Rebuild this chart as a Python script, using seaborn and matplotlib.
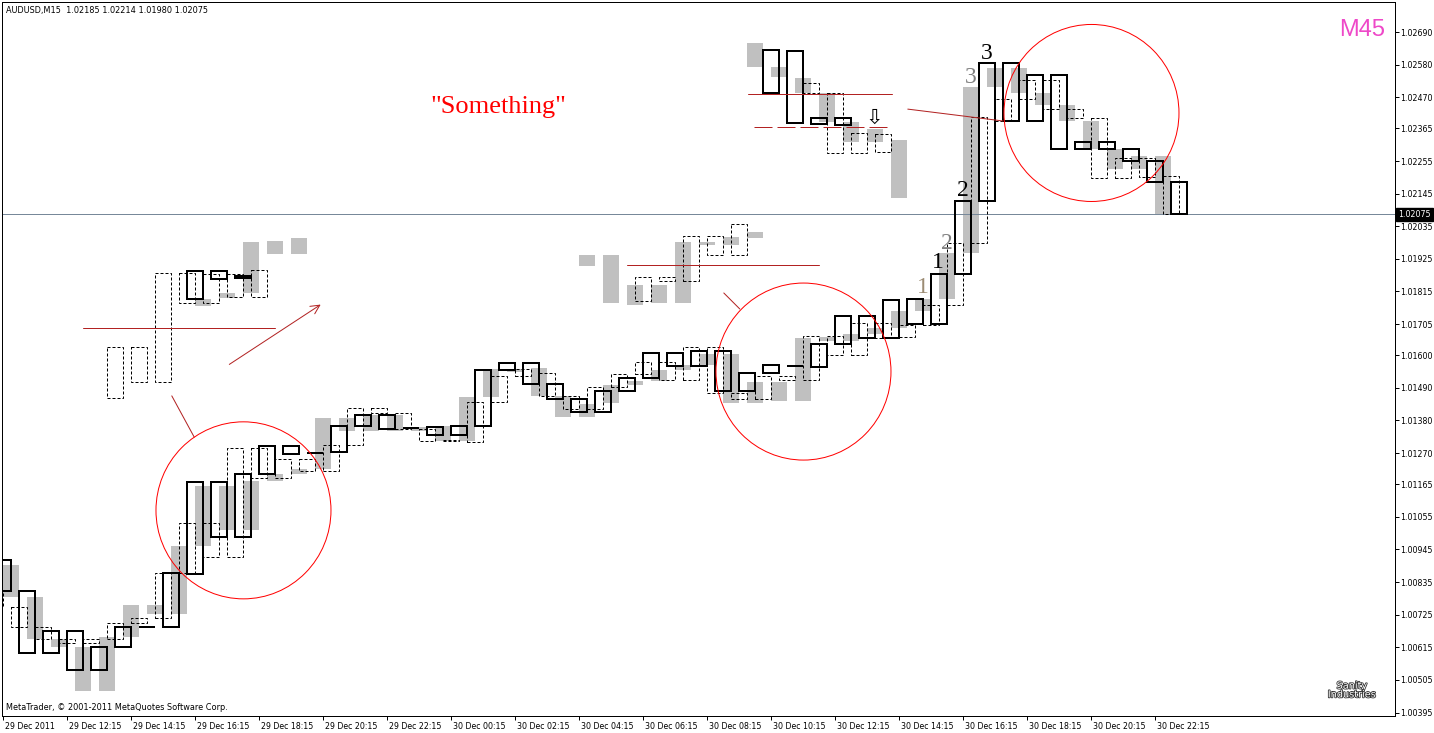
#-----------------------------------------------
# AUDUSD M15 chart with three offset M45 candle
# layers (gray / dashed / black) plus the hand
# drawn notes, redrawn from a MetaTrader shot
#-----------------------------------------------

import numpy as np
import matplotlib
matplotlib.use("Agg")
import matplotlib.pyplot as plt
import matplotlib.transforms as mtransforms
import matplotlib.patheffects as pe
from matplotlib.patches import Ellipse
import seaborn as sns

#----------------------------DATA------------------------

# x axis is counted in M15 bars from 29 Dec 10:15
tick_bars = [0, 8, 16, 24, 32, 40, 48, 56, 64, 72, 80, 88, 96, 104, 112, 120, 128, 136, 144]
tick_labels = ["29 Dec 2011", "29 Dec 12:15", "29 Dec 14:15", "29 Dec 16:15", "29 Dec 18:15",
               "29 Dec 20:15", "29 Dec 22:15", "30 Dec 00:15", "30 Dec 02:15", "30 Dec 04:15",
               "30 Dec 06:15", "30 Dec 08:15", "30 Dec 10:15", "30 Dec 12:15", "30 Dec 14:15",
               "30 Dec 16:15", "30 Dec 18:15", "30 Dec 20:15", "30 Dec 22:15"]
price_ticks = [1.02690, 1.02580, 1.02470, 1.02365, 1.02255, 1.02145, 1.02035, 1.01925,
               1.01815, 1.01705, 1.01600, 1.01490, 1.01380, 1.01270, 1.01165, 1.01055,
               1.00945, 1.00835, 1.00725, 1.00615, 1.00505, 1.00395]
last_price = 1.02075

# M45 candles starting on bar 3m (gray), 3j+1 (dashed) and 3k+2 (black)
gray_start = np.arange(0, 49) * 3
gray_open = [1.00893, 1.00785, 1.00643, 1.00616, 1.00468, 1.00650, 1.00758, 1.00728, 1.00957, 1.01159,
             1.01011, 1.01176, 1.01200, 1.01216, 1.01388, 1.01345, 1.01399, 1.01345, 1.01361, 1.01311,
             1.01459, 1.01554, 1.01557, 1.01463, 1.01392, 1.01439, 1.01500, 1.01513, 1.01550, 1.01567,
             1.01604, 1.01439, 1.01510, 1.01446, 1.01662, 1.01648, 1.01672, 1.01692, 1.01749, 1.01790,
             1.01945, 1.02505, 1.02569, 1.02484, 1.02444, 1.02390, 1.02296, 1.02228, 1.02272]
gray_close = [1.00785, 1.00643, 1.00616, 1.00468, 1.00650, 1.00758, 1.00728, 1.00957, 1.01159, 1.01011,
              1.01176, 1.01200, 1.01216, 1.01388, 1.01345, 1.01399, 1.01345, 1.01358, 1.01311, 1.01459,
              1.01554, 1.01544, 1.01463, 1.01392, 1.01436, 1.01500, 1.01513, 1.01550, 1.01567, 1.01604,
              1.01439, 1.01510, 1.01446, 1.01658, 1.01648, 1.01672, 1.01692, 1.01749, 1.01790, 1.01945,
              1.02505, 1.02569, 1.02484, 1.02444, 1.02390, 1.02296, 1.02228, 1.02272, 1.02075]

dash_start = np.arange(-1, 49) * 3 + 1
dash_open = [1.00802, 1.00751, 1.00684, 1.00643, 1.00630, 1.00643, 1.00697, 1.00714, 1.00866, 1.01034,
             1.00920, 1.01287, 1.01186, 1.01250, 1.01210, 1.01297, 1.01422, 1.01405, 1.01351, 1.01311,
             1.01307, 1.01442, 1.01530, 1.01540, 1.01463, 1.01419, 1.01493, 1.01537, 1.01577, 1.01517,
             1.01628, 1.01473, 1.01452, 1.01530, 1.01517, 1.01665, 1.01601, 1.01709, 1.01662, 1.01702,
             1.01769, 1.01978, 1.02390, 1.02464, 1.02528, 1.02430, 1.02400, 1.02198, 1.02265, 1.02204]
dash_close = [1.00751, 1.00684, 1.00643, 1.00630, 1.00643, 1.00697, 1.00714, 1.00866, 1.01034, 1.00920,
              1.01287, 1.01186, 1.01250, 1.01210, 1.01297, 1.01422, 1.01405, 1.01351, 1.01311, 1.01314,
              1.01442, 1.01530, 1.01554, 1.01463, 1.01419, 1.01493, 1.01537, 1.01577, 1.01517, 1.01628,
              1.01473, 1.01452, 1.01530, 1.01517, 1.01665, 1.01601, 1.01709, 1.01658, 1.01702, 1.01769,
              1.01978, 1.02403, 1.02464, 1.02528, 1.02430, 1.02400, 1.02198, 1.02265, 1.02201, 1.02075]

black_start = np.arange(-1, 49) * 3 + 2
black_open = [1.00910, 1.00805, 1.00596, 1.00670, 1.00539, 1.00616, 1.00684, 1.00684, 1.00862, 1.01173,
              1.00987, 1.01200, 1.01294, 1.01270, 1.01274, 1.01361, 1.01399, 1.01355, 1.01358, 1.01331,
              1.01361, 1.01550, 1.01574, 1.01503, 1.01452, 1.01409, 1.01479, 1.01523, 1.01608, 1.01564,
              1.01614, 1.01479, 1.01540, 1.01564, 1.01560, 1.01638, 1.01732, 1.01658, 1.01790, 1.01705,
              1.01874, 1.02120, 1.02585, 1.02390, 1.02545, 1.02296, 1.02319, 1.02296, 1.02255, 1.02184]
black_close = [1.00805, 1.00596, 1.00670, 1.00539, 1.00616, 1.00684, 1.00684, 1.00866, 1.01173, 1.00987,
               1.01200, 1.01294, 1.01267, 1.01272, 1.01361, 1.01399, 1.01351, 1.01355, 1.01331, 1.01361,
               1.01550, 1.01574, 1.01503, 1.01452, 1.01409, 1.01479, 1.01523, 1.01608, 1.01564, 1.01614,
               1.01479, 1.01540, 1.01567, 1.01564, 1.01638, 1.01732, 1.01658, 1.01786, 1.01705, 1.01874,
               1.02120, 1.02585, 1.02390, 1.02545, 1.02296, 1.02319, 1.02296, 1.02255, 1.02184, 1.02075]

# copied candle groups used as illustrations
ill1_gray_start = [24, 27, 30, 33, 36]
ill1_gray_open = [1.01790, 1.01810, 1.01982, 1.01985, 1.01995]
ill1_gray_close = [1.01766, 1.01793, 1.01810, 1.01941, 1.01941]
ill1_dash_start = [13, 16, 19, 22, 25, 28, 31]
ill1_dash_open = [1.01628, 1.01628, 1.01877, 1.01877, 1.01874, 1.01874, 1.01887]
ill1_dash_close = [1.01456, 1.01510, 1.01510, 1.01776, 1.01776, 1.01796, 1.01796]
ill1_black_start = [23, 26, 29]
ill1_black_open = [1.01790, 1.01857, 1.01861]
ill1_black_close = [1.01884, 1.01884, 1.01866]

ill2_gray_start = [72, 75, 78, 81, 84, 87, 90, 93]
ill2_gray_open = [1.01938, 1.01938, 1.01837, 1.01837, 1.01982, 1.01982, 1.01999, 1.02016]
ill2_gray_close = [1.01901, 1.01776, 1.01769, 1.01776, 1.01776, 1.01972, 1.01972, 1.01995]
ill2_dash_start = [79, 82, 85, 88, 91]
ill2_dash_open = [1.01783, 1.01850, 1.01850, 1.02002, 1.02043]
ill2_dash_close = [1.01864, 1.01864, 1.02002, 1.01938, 1.01938]

ill3_gray_start = [93, 96, 99, 102, 105, 108, 111]
ill3_gray_open = [1.02653, 1.02572, 1.02535, 1.02484, 1.02387, 1.02363, 1.02326]
ill3_gray_close = [1.02572, 1.02538, 1.02484, 1.02387, 1.02319, 1.02319, 1.02130]
ill3_dash_start = [100, 103, 106, 109]
ill3_dash_open = [1.02518, 1.02484, 1.02349, 1.02346]
ill3_dash_close = [1.02484, 1.02282, 1.02282, 1.02285]
ill3_black_start = [95, 98, 101, 104]
ill3_black_open = [1.02629, 1.02626, 1.02400, 1.02400]
ill3_black_close = [1.02484, 1.02383, 1.02380, 1.02376]

# drawn objects (bar, price) anchors
hline_left = ([10, 34], [1.01692, 1.01692])
arrow_up = ([28, 40], [1.01564, 1.01776])
pointer_1 = ([21.1, 23.9], [1.01463, 1.01324])
hline_mid = ([78, 102], [1.01904, 1.01904])
pointer_2 = ([90.1, 92.1], [1.01810, 1.01756])
hline_top = ([93.1, 111.1], [1.02481, 1.02481])
hline_top_dash = ([93.9, 111.1], [1.02370, 1.02370])
slope_line = ([113.1, 125.0], [1.02430, 1.02390])
circle_bar = [30.06, 100.06, 136.06]
circle_price = [1.01077, 1.01545, 1.02417]
arrow_down = (108.9, 1.02400)
wave_text = ["3", "3", "2", "2", "1", "1"]
wave_bar = [123.0, 121.0, 120.0, 118.0, 116.9, 115.0]
wave_price = [1.02619, 1.02538, 1.02157, 1.01978, 1.01914, 1.01830]
wave_color = ["black", "#808080", "black", "#808080", "black", "#9c8c74"]
note_pos = (61.9, 1.02437)

#----------------------------PLOT------------------------

sns.set_theme(style="white")
plt.rcParams['font.family'] = ['DejaVu Sans']

W, H = 1434, 733
fig = plt.figure(figsize=(W / 100, H / 100), dpi=100)
ax = fig.add_axes([2 / W, 17 / H, 1393 / W, 714 / H])
ax.set_facecolor("white")

px = 0.72  # one pixel in points


def boxes(starts, opens, closes, kind, z):
    opens = np.asarray(opens)
    h = np.asarray(closes) - opens
    if kind == "gray":
        ax.bar(starts, h, width=2, bottom=opens, align="edge", color="#c0c0c0",
               linewidth=0, zorder=z)
    elif kind == "dash":
        ax.bar(starts, h, width=2, bottom=opens, align="edge", fill=False,
               edgecolor="black", linewidth=px, linestyle=(0, (3, 2)), zorder=z)
    else:
        ax.bar(starts, h, width=2, bottom=opens, align="edge", fill=False,
               edgecolor="black", linewidth=2 * px, zorder=z)


boxes(gray_start, gray_open, gray_close, "gray", 1)
boxes(ill1_gray_start, ill1_gray_open, ill1_gray_close, "gray", 1)
boxes(ill2_gray_start, ill2_gray_open, ill2_gray_close, "gray", 1)
boxes(ill3_gray_start, ill3_gray_open, ill3_gray_close, "gray", 1)

ax.axhline(last_price, color="#778899", linewidth=px, zorder=1.5)

boxes(dash_start, dash_open, dash_close, "dash", 2)
boxes(ill1_dash_start, ill1_dash_open, ill1_dash_close, "dash", 2)
boxes(ill2_dash_start, ill2_dash_open, ill2_dash_close, "dash", 2)
boxes(ill3_dash_start, ill3_dash_open, ill3_dash_close, "dash", 2)

boxes(black_start, black_open, black_close, "black", 3)
boxes(ill1_black_start, ill1_black_open, ill1_black_close, "black", 3)
boxes(ill3_black_start, ill3_black_open, ill3_black_close, "black", 3)

# notes
dark_red = "#b22222"
for ln in [hline_left, pointer_1, hline_mid, pointer_2, hline_top, slope_line]:
    ax.plot(ln[0], ln[1], color=dark_red, linewidth=px, zorder=4)
ax.plot(hline_top_dash[0], hline_top_dash[1], color=dark_red, linewidth=px,
        linestyle=(0, (18, 5)), zorder=4)
ax.annotate("", xy=(arrow_up[0][1], arrow_up[1][1]), xytext=(arrow_up[0][0], arrow_up[1][0]),
            arrowprops=dict(arrowstyle="->", color=dark_red, lw=px, mutation_scale=16), zorder=4)

pix_price = (price_ticks[0] - price_ticks[-1]) / 680.5
for cb, cp in zip(circle_bar, circle_price):
    ax.add_patch(Ellipse((cb, cp), width=2 * 87.5 / 8, height=2 * 88.5 * pix_price,
                         fill=False, edgecolor="red", linewidth=px, zorder=5))

ax.text(arrow_down[0], arrow_down[1], "\u21e9", fontsize=15, color="black",
        ha="center", va="center", zorder=6)

for t, b, p, c in zip(wave_text, wave_bar, wave_price, wave_color):
    ax.text(b, p, t, fontsize=17, color=c, family="Liberation Serif",
            ha="center", va="center", zorder=6)

ax.text(note_pos[0], note_pos[1], "\"Something\"", fontsize=19, color="red",
        family="Liberation Serif", ha="center", va="center", zorder=6)

# axes
ax.set_xlim(-0.125, 174.0)
ax.set_ylim(1.003835, 1.027912)
ax.yaxis.tick_right()
ax.set_yticks(price_ticks)
ax.set_yticklabels([f"{v:.5f}" for v in price_ticks])
ax.set_xticks(tick_bars)
ax.set_xticklabels(tick_labels)
ax.tick_params(axis="both", which="both", direction="out", length=3, width=px,
               color="black", labelsize=5.7, labelcolor="black", pad=1)
ax.tick_params(axis="y", left=False, right=True)
ax.tick_params(axis="x", bottom=True)
for lab in ax.get_xticklabels():
    lab.set_horizontalalignment("left")
    lab.set_transform(lab.get_transform() + mtransforms.ScaledTranslation(2 / 100, 0, fig.dpi_scale_trans))
for s in ax.spines.values():
    s.set_color("black")
    s.set_linewidth(px)
ax.grid(False)

# last price tag
tr = mtransforms.blended_transform_factory(ax.transAxes, ax.transData)
ax.text(1.0025, last_price, f"{last_price:.5f}", transform=tr, fontsize=5.7, color="white",
        ha="left", va="center", clip_on=False, zorder=10,
        bbox=dict(boxstyle="square,pad=0.3", facecolor="black", edgecolor="black"))

# captions
fig.text(6 / W, 1 - 10 / H, "AUDUSD,M15  1.02185 1.02214 1.01980 1.02075", fontsize=5.9,
         color="black", ha="left", va="center")
fig.text(1385 / W, 1 - 30 / H, "M45", fontsize=17, color="#ee48c8", family="Liberation Sans",
         ha="right", va="center")
fig.text(6 / W, 1 - 707 / H, "MetaTrader, \u00a9 2001-2011 MetaQuotes Software Corp.", fontsize=5.9,
         color="black", ha="left", va="center")
fig.text(1352 / W, 1 - 690 / H, "Sanity\nIndustries", fontsize=7, color="white", ha="center",
         va="center", linespacing=0.85,
         path_effects=[pe.withStroke(linewidth=1.2, foreground="#333333")])

fig.savefig("out.png", dpi=100, facecolor="white")
